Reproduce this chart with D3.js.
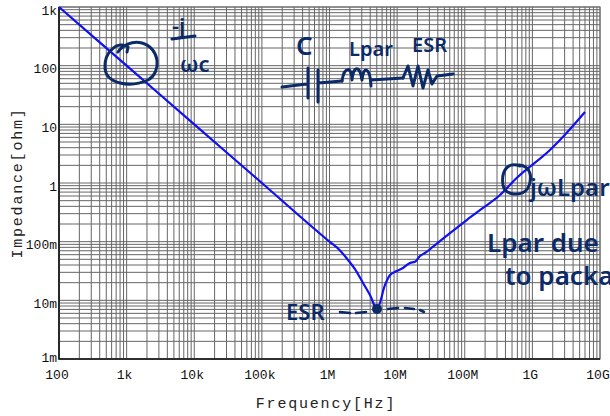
<!DOCTYPE html>
<html>
<head>
<meta charset="utf-8">
<script src="https://cdn.jsdelivr.net/npm/d3@7/dist/d3.min.js"></script>
<style>
  html, body { margin: 0; padding: 0; background: #fff; }
  svg { display: block; }
  .tick-label { font-family: "Liberation Mono", "Courier New", monospace; font-size: 13px; fill: #111; }
  .axis-title { font-family: "Liberation Mono", "Courier New", monospace; font-size: 15px; letter-spacing: 1.8px; fill: #222; }
  .hand { font-family: "Noto Sans", "DejaVu Sans", sans-serif; font-weight: 600; fill: #0c2a68; }
</style>
</head>
<body>
<div id="chart"></div>
<script>
//Datos
const freqHz = [1e2, 1e3, 1e4, 1e5, 1e6, 1.43e6, 1.82e6, 2.38e6, 3.13e6, 3.97e6, 5.04e6, 6.62e6, 7.85e6, 9.86e6,
    12.2e6, 15.5e6, 18.4e6, 21.8e6, 25.8e6, 34e6, 60.5e6, 107e6, 186e6, 332e6, 586e6, 1.82e9, 2.56e9, 6.0e9];
const impedanceOhm = [1000, 100, 10, 1, 0.1, 0.071, 0.051, 0.034, 0.0198, 0.0123, 0.0071, 0.0183, 0.027, 0.0316,
    0.0356, 0.0434, 0.0456, 0.057, 0.064, 0.082, 0.14, 0.234, 0.375, 0.625, 1.22, 3.66, 5.4, 16.2];

const xTickValues = [1e2, 1e3, 1e4, 1e5, 1e6, 1e7, 1e8, 1e9, 1e10];
const xTickLabels = ['100', '1k', '10k', '100k', '1M', '10M', '100M', '1G', '10G'];
const yTickValues = [1e-3, 1e-2, 1e-1, 1, 10, 100, 1000];
const yTickLabels = ['1m', '10m', '100m', '1', '10', '100', '1k'];

const esrFreq = 5.04e6, esrOhm = 0.0071;

//Colores
const COLOR_LINE = '#1010f0',
    COLOR_GRID = '#666',
    COLOR_INK = '#0c2a68';

const width = 610, height = 416;
const margin = {top: 7, right: 10, bottom: 57, left: 59};

let svg = d3.select('#chart')
    .append('svg')
    .attr('width', width)
    .attr('height', height);

//Escalas
let x = d3.scaleLog()
    .domain([1e2, 1e10])
    .range([margin.left, width - margin.right]);

let y = d3.scaleLog()
    .domain([1e-3, 1e3])
    .range([height - margin.bottom, margin.top]);

//Rejilla
let xGrid = [], yGrid = [];
for (let e = 2; e < 10; e++) for (let m = 1; m < 10; m++) xGrid.push(m * Math.pow(10, e));
xGrid.push(1e10);
for (let e = -3; e < 3; e++) for (let m = 1; m < 10; m++) yGrid.push(m * Math.pow(10, e));
yGrid.push(1e3);

let grid = svg.append('g').attr('stroke', COLOR_GRID).attr('stroke-width', 1);

grid.selectAll('line.v')
    .data(xGrid)
    .enter()
    .append('line')
    .attr('class', 'v')
    .attr('x1', d => x(d)).attr('x2', d => x(d))
    .attr('y1', y(1e-3)).attr('y2', y(1e3));

grid.selectAll('line.h')
    .data(yGrid)
    .enter()
    .append('line')
    .attr('class', 'h')
    .attr('y1', d => y(d)).attr('y2', d => y(d))
    .attr('x1', x(1e2)).attr('x2', x(1e10));

//Marco
svg.append('rect')
    .attr('x', x(1e2)).attr('y', y(1e3))
    .attr('width', x(1e10) - x(1e2)).attr('height', y(1e-3) - y(1e3))
    .attr('fill', 'none').attr('stroke', '#777').attr('stroke-width', 1.2);

svg.append('path')
    .attr('d', 'M' + x(1e2) + ',' + y(1e3) + 'V' + y(1e-3) + 'H' + x(1e10))
    .attr('fill', 'none').attr('stroke', '#111').attr('stroke-width', 1.6);

//Etiquetas de ejes
svg.append('g')
    .selectAll('text')
    .data(xTickValues)
    .enter()
    .append('text')
    .attr('class', 'tick-label')
    .attr('x', d => x(d) - 2)
    .attr('y', y(1e-3) + 20)
    .attr('text-anchor', 'middle')
    .text((d, i) => xTickLabels[i]);

svg.append('g')
    .selectAll('text')
    .data(yTickValues)
    .enter()
    .append('text')
    .attr('class', 'tick-label')
    .attr('x', margin.left - 2)
    .attr('y', (d, i) => y(d) + (i === 0 ? -2 : 3))
    .attr('dy', '0.35em')
    .attr('text-anchor', 'end')
    .text((d, i) => yTickLabels[i]);

svg.append('text')
    .attr('class', 'axis-title')
    .attr('x', 326)
    .attr('y', 408)
    .attr('text-anchor', 'middle')
    .text('Frequency[Hz]');

svg.append('text')
    .attr('class', 'axis-title')
    .attr('transform', 'translate(22,183) rotate(-90)')
    .attr('text-anchor', 'middle')
    .text('Impedance[ohm]');

//Curva de impedancia
let points = freqHz.map((f, i) => [f, impedanceOhm[i]]);

let line = d3.line()
    .x(d => x(d[0]))
    .y(d => y(d[1]))
    .curve(d3.curveMonotoneX);

svg.append('path')
    .datum(points)
    .attr('fill', 'none')
    .attr('stroke', COLOR_LINE)
    .attr('stroke-width', 2.2)
    .attr('stroke-linejoin', 'round')
    .attr('d', line);

/////
// Anotaciones a mano
/////
let ink = svg.append('g')
    .attr('fill', 'none')
    .attr('stroke', COLOR_INK)
    .attr('stroke-width', 3)
    .attr('stroke-linecap', 'round')
    .attr('stroke-linejoin', 'round');

//Círculo en la zona capacitiva
ink.append('path')
    .attr('d', 'M128,47 C118,40 104,52 105,68 C106,84 130,88 148,80 C162,72 160,48 142,43 C132,40 122,46 118,52 M128,47 L127,52');

//-j / wC
svg.append('text').attr('class', 'hand').attr('x', 172).attr('y', 34).attr('font-size', 22).text('-j');
ink.append('path').attr('d', 'M172,39 L195,36');
svg.append('text').attr('class', 'hand').attr('x', 180).attr('y', 72).attr('font-size', 22).text('ωc');

//C Lpar ESR
svg.append('text').attr('class', 'hand').attr('x', 296).attr('y', 55).attr('font-size', 26).text('C');
svg.append('text').attr('class', 'hand').attr('x', 349).attr('y', 56).attr('font-size', 20).text('Lpar');
svg.append('text').attr('class', 'hand').attr('x', 412).attr('y', 52).attr('font-size', 20).text('ESR');

//Circuito serie
ink.append('path').attr('d', 'M282,87 L307,84 M308,68 L308,98 M318,70 L318,102 M318,83 L342,81');
ink.append('path').attr('d', 'M342,81 C344,66 352,66 352,80 C353,66 360,64 362,80 C363,66 370,66 371,86 M352,80 M371,80 L403,78');
ink.append('path').attr('d', 'M403,78 L408,66 L413,86 L418,66 L423,88 L428,70 L432,84 L437,76 L453,74');

//ESR
svg.append('text').attr('class', 'hand').attr('x', 286).attr('y', 320).attr('font-size', 22).text('ESR');
ink.append('path')
    .attr('d', 'M340,312 L350,313 M356,313 L366,312 M388,309 L398,308 M405,308 L414,309 M420,310 L424,312')
    .attr('stroke-width', 2.6);
svg.append('circle')
    .attr('cx', x(esrFreq))
    .attr('cy', y(esrOhm))
    .attr('r', 5)
    .attr('fill', COLOR_INK);

//Zona inductiva
ink.append('path')
    .attr('d', 'M520,166 C507,161 501,172 503,185 C505,196 522,197 528,188 C533,178 531,166 519,165');
svg.append('text').attr('class', 'hand').attr('x', 530).attr('y', 196).attr('font-size', 24).text('jωLpar');
svg.append('text').attr('class', 'hand').attr('x', 487).attr('y', 252).attr('font-size', 26).text('Lpar due');
svg.append('text').attr('class', 'hand').attr('x', 505).attr('y', 285).attr('font-size', 26).text('to package');
</script>
</body>
</html>
